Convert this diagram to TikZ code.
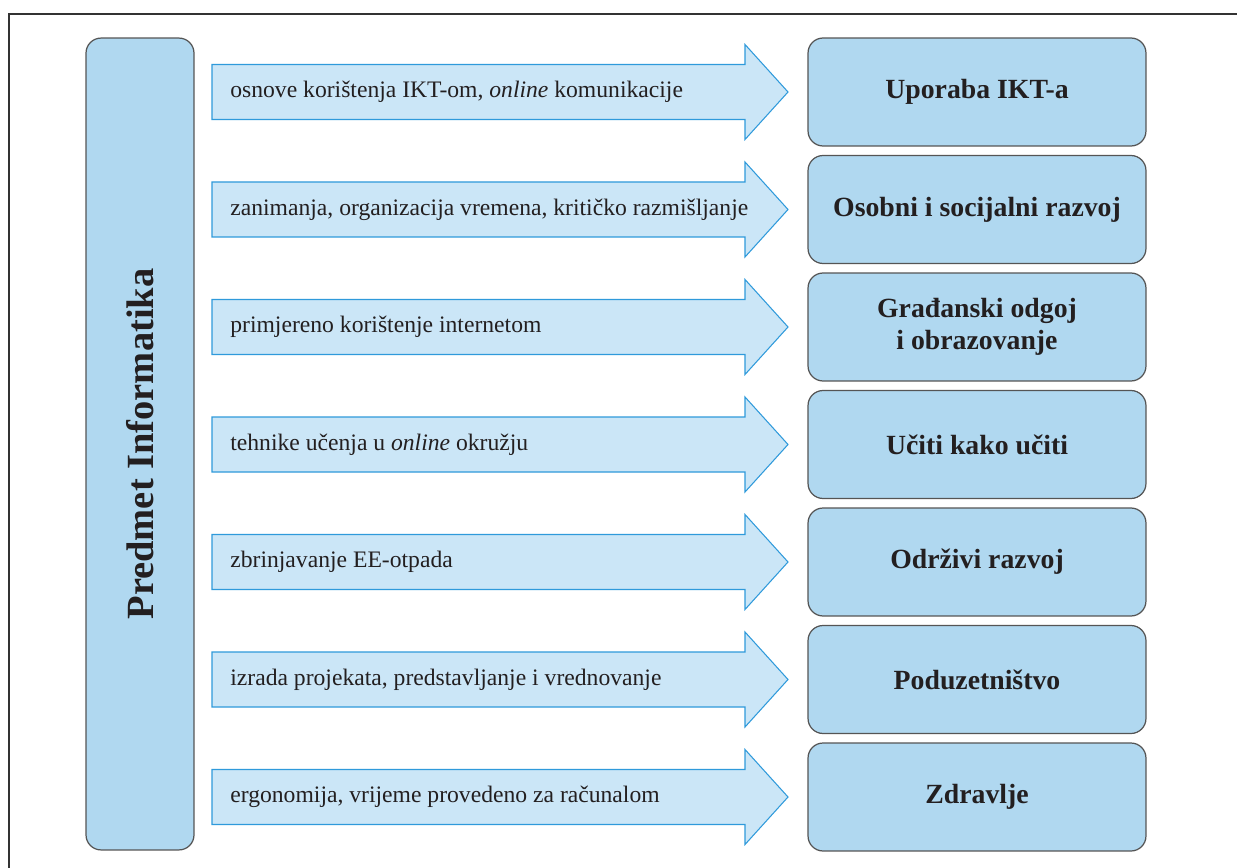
\documentclass[tikz,border=0pt]{standalone}
\usepackage{fontspec}
\setmainfont{Liberation Serif}
\definecolor{okvir}{HTML}{B0D8F0}
\definecolor{plava}{HTML}{CBE6F7}
\definecolor{rub}{HTML}{2F9ADB}
\definecolor{sivo}{HTML}{555555}
\definecolor{tekst}{HTML}{231F20}
\tikzset{
  podrucje/.style={draw=sivo, fill=okvir, rounded corners=0.3cm, line width=0.7pt,
    minimum width=6.76cm, minimum height=2.16cm, align=center,
    font=\fontsize{15.8}{18.5}\selectfont\bfseries, text=tekst},
  opis/.style={anchor=west, inner sep=0pt, font=\fontsize{13.45}{16}\selectfont, text=tekst},
  strelica/.style={draw=rub, fill=plava, line width=0.6pt, line join=miter}
}
\begin{document}
\begin{tikzpicture}[x=0.02cm,y=-0.02cm]
\useasboundingbox (0,0) rectangle (1237,868);
\fill[white] (0,0) rectangle (1237,868);
% okvir stranice
\draw[black!80,line width=0.7pt] (9,880)--(9,14)--(1250,14);
% predmet
\node[draw=sivo, fill=okvir, rounded corners=0.3cm, line width=0.7pt, rotate=90,
  minimum width=16.24cm, minimum height=2.16cm,
  font=\fontsize{21.9}{25}\selectfont\bfseries, text=tekst] (predmet) at (140,444) {Predmet Informatika};
% strelice i podrucja
\foreach \i/\tekst/\naziv in {
  1/{osnove korištenja IKT-om, \emph{online} komunikacije}/{Uporaba IKT-a},
  2/{zanimanja, organizacija vremena, kritičko razmišljanje}/{Osobni i socijalni razvoj},
  3/{primjereno korištenje internetom}/{Građanski odgoj\\ i obrazovanje},
  4/{tehnike učenja u \emph{online} okružju}/{Učiti kako učiti},
  5/{zbrinjavanje EE-otpada}/{Održivi razvoj},
  6/{izrada projekata, predstavljanje i vrednovanje}/{Poduzetništvo},
  7/{ergonomija, vrijeme provedeno za računalom}/{Zdravlje}}
{
  \pgfmathsetmacro\yc{92+(\i-1)*117.5}
  \draw[strelica] (212,\yc-27.5) -- (745,\yc-27.5) -- (745,\yc-47.5) -- (788,\yc)
    -- (745,\yc+47.5) -- (745,\yc+27.5) -- (212,\yc+27.5) -- cycle;
  \node[opis] (opis\i) at (230,\yc) {\tekst};
  \node[podrucje] (podrucje\i) at (977,\yc) {\naziv};
}
\end{tikzpicture}
\end{document}
